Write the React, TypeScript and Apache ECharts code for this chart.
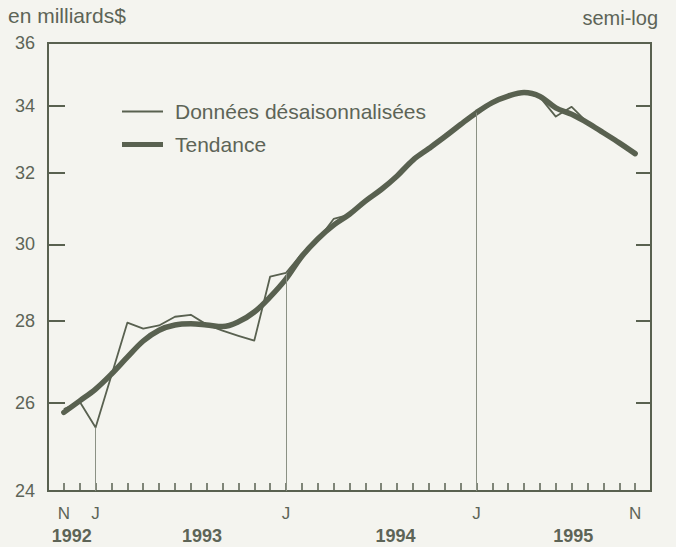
import React, { useEffect, useRef } from "react";
import * as echarts from "echarts";

// Monthly values, Nov 1992 .. Nov 1995 (billions $)
const seasonallyAdjusted = [
  25.85, 26.02, 25.42, 26.65, 27.95, 27.8, 27.88, 28.1, 28.15, 27.9, 27.75, 27.62,
  27.5, 29.14, 29.24, 29.75, 30.12, 30.7, 30.82, 31.2, 31.53, 31.9, 32.42, 32.7,
  33.07, 33.44, 33.8, 34.11, 34.33, 34.42, 34.28, 33.68, 33.98, 33.5, 33.19, 32.89,
  32.57,
];
const trend = [
  25.77, 26.04, 26.32, 26.68, 27.09, 27.49, 27.76, 27.89, 27.92, 27.89, 27.85, 27.97,
  28.22, 28.61, 29.08, 29.68, 30.15, 30.53, 30.83, 31.2, 31.53, 31.92, 32.38, 32.72,
  33.07, 33.44, 33.8, 34.11, 34.31, 34.42, 34.3, 33.95, 33.75, 33.49, 33.19, 32.89,
  32.57,
];
const monthLabelIdx = [0, 2, 14, 26, 36];
const monthLabels = ["N", "J", "J", "J", "N"];
const yearLabelPos = [0.5, 8.7, 20.9, 32.1];
const yearLabels = ["1992", "1993", "1994", "1995"];
const dropLineIdx = [2, 14, 26];
const yTickValues = [24, 26, 28, 30, 32, 34, 36];

const INK = "#596150";
const TEXT = "#5d6457";
const FONT = "'Liberation Sans', Arial, sans-serif";

function nearestLabel(v: number, pos: number[], labels: string[]) {
  let best = 0;
  for (let i = 1; i < pos.length; i++) {
    if (Math.abs(pos[i] - v) < Math.abs(pos[best] - v)) best = i;
  }
  return labels[best];
}

export default function App() {
  const ref = useRef<HTMLDivElement>(null);
  useEffect(() => {
    const chart = echarts.init(ref.current!, null, { renderer: "svg" });
    const yMin = Math.log(yTickValues[0]);
    const yMax = Math.log(yTickValues[yTickValues.length - 1]);
    const yTicksLog = yTickValues.map((v) => Math.log(v));
    const monthTicks = trend.map((_, i) => i);
    const option: any = {
      animation: false,
      backgroundColor: "#f4f4ef",
      textStyle: { fontFamily: FONT },
      title: [
        {
          text: "en milliards$",
          left: 8,
          top: 5,
          padding: 0,
          textStyle: { fontSize: 21, fontWeight: "normal", color: TEXT, fontFamily: FONT },
        },
        {
          text: "semi-log",
          right: 18,
          top: 8,
          padding: 0,
          textStyle: { fontSize: 20, fontWeight: "normal", color: TEXT, fontFamily: FONT },
        },
      ],
      legend: [
        {
          data: ["Données désaisonnalisées"],
          left: 122,
          top: 101,
          icon: "rect",
          itemWidth: 41,
          itemHeight: 2,
          padding: 0,
          textStyle: { fontSize: 21, color: TEXT, fontFamily: FONT, padding: [0, 0, 0, 7] },
        },
        {
          data: ["Tendance"],
          left: 122,
          top: 134,
          icon: "rect",
          itemWidth: 41,
          itemHeight: 5,
          padding: 0,
          textStyle: { fontSize: 21, color: TEXT, fontFamily: FONT, padding: [0, 0, 0, 7] },
        },
      ],
      grid: {
        left: 48,
        right: 25,
        top: 43,
        bottom: 56,
        show: true,
        borderColor: INK,
        borderWidth: 2,
        backgroundColor: "transparent",
      },
      xAxis: [
        {
          type: "value",
          min: -1,
          max: 37,
          interval: 1,
          position: "bottom",
          axisLine: { show: true, onZero: false, lineStyle: { color: INK, width: 2 } },
          axisTick: {
            show: true,
            inside: true,
            length: 8,
            customValues: monthTicks,
            lineStyle: { color: INK, width: 1.5 },
          },
          axisLabel: {
            customValues: monthLabelIdx,
            formatter: (v: number) => nearestLabel(v, monthLabelIdx, monthLabels),
            margin: 14,
            fontSize: 17,
            color: TEXT,
            fontFamily: FONT,
          },
          splitLine: { show: false },
        },
        {
          type: "value",
          min: -1,
          max: 37,
          position: "bottom",
          axisLine: { show: false, onZero: false },
          axisTick: { show: false },
          axisLabel: {
            customValues: yearLabelPos,
            formatter: (v: number) => nearestLabel(v, yearLabelPos, yearLabels),
            margin: 36,
            fontSize: 18,
            fontWeight: "bold",
            color: TEXT,
            fontFamily: FONT,
          },
          splitLine: { show: false },
        },
      ],
      yAxis: [
        {
          type: "value",
          min: yMin,
          max: yMax,
          position: "left",
          axisLine: { show: true, onZero: false, lineStyle: { color: INK, width: 2 } },
          axisTick: {
            show: true,
            inside: true,
            length: 17,
            customValues: yTicksLog,
            lineStyle: { color: INK, width: 2 },
          },
          axisLabel: {
            customValues: yTicksLog,
            formatter: (v: number) => String(Math.round(Math.exp(v))),
            margin: 13,
            fontSize: 18,
            color: TEXT,
            fontFamily: FONT,
          },
          splitLine: { show: false },
        },
        {
          type: "value",
          min: yMin,
          max: yMax,
          position: "right",
          axisLine: { show: true, onZero: false, lineStyle: { color: INK, width: 2 } },
          axisTick: {
            show: true,
            inside: true,
            length: 15,
            customValues: yTicksLog,
            lineStyle: { color: INK, width: 2 },
          },
          axisLabel: { show: false },
          splitLine: { show: false },
        },
      ],
      series: [
        {
          name: "Tendance",
          type: "line",
          xAxisIndex: 0,
          yAxisIndex: 0,
          data: trend.map((v, i) => [i, Math.log(v)]),
          symbol: "none",
          smooth: 0.35,
          itemStyle: { color: INK },
          lineStyle: { color: INK, width: 5.5, cap: "round", join: "round" },
          z: 2,
        },
        {
          name: "Données désaisonnalisées",
          type: "line",
          xAxisIndex: 0,
          yAxisIndex: 0,
          data: seasonallyAdjusted.map((v, i) => [i, Math.log(v)]),
          symbol: "none",
          itemStyle: { color: INK },
          lineStyle: { color: INK, width: 1.8, join: "round" },
          z: 3,
          markLine: {
            silent: true,
            symbol: "none",
            label: { show: false },
            lineStyle: { color: "#8b9184", width: 1, type: "solid" },
            data: dropLineIdx.map((i) => [
              { coord: [i, yMin] },
              { coord: [i, Math.log(seasonallyAdjusted[i])] },
            ]),
          },
        },
      ],
    };
    chart.setOption(option);
    return () => chart.dispose();
  }, []);
  return (
    <div
      ref={ref}
      style={{ position: "absolute", left: 0, top: 0, width: 676, height: 547, background: "#f4f4ef" }}
    />
  );
}
